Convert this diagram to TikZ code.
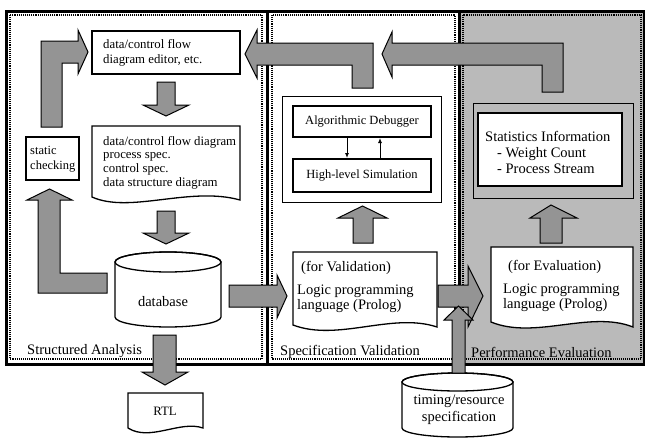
\documentclass[tikz,border=0pt]{standalone}
\usepackage{fontspec}
\setmainfont{Liberation Serif}
\usetikzlibrary{arrows.meta}
\newcommand\fsmall{\fontsize{12.8}{15}\selectfont}
\newcommand\fdoc{\fontsize{12.8}{13.7}\selectfont}
\newcommand\fmid{\fontsize{12.5}{15}\selectfont}
\newcommand\fbig{\fontsize{14.5}{15}\selectfont}
\newcommand\fstat{\fontsize{14.5}{16}\selectfont}
\newcommand\ftime{\fontsize{14.5}{17}\selectfont}
\begin{document}
\begin{tikzpicture}[x=1pt,y=-1pt,
  fat/.style={draw=black, line width=1pt, fill=black!42, line join=miter},
  box/.style={draw, line width=1.3pt, fill=white},
  thickbox/.style={draw, line width=2pt, fill=white},
  thinbox/.style={draw, line width=0.9pt},
  dotframe/.style={draw, densely dotted, line width=1.1pt},
  txt/.style={inner sep=0pt, align=left},
  small/.style={-{Latex[length=5pt,width=4pt]}, line width=0.9pt}]
\useasboundingbox (0,0) rectangle (645,439);
% panels
\fill[black!27] (459,11) rectangle (644.5,364);
\draw[dotframe] (10,15) rectangle (262,359);
\draw[dotframe] (272,15) rectangle (455,359);
\draw[dotframe] (463,15) rectangle (641,359);
\draw[line width=3pt] (6,11) rectangle (644.5,364);
\draw[line width=3pt] (267,11) -- (267,364);
\draw[line width=3pt] (459,11) -- (459,364);

% ---------- Structured Analysis ----------
\node[box, minimum width=148pt, minimum height=43pt] (editor) at (166,52.5) {};
\node[txt, anchor=west, font=\fsmall] (editortxt) at (103,52.5) {data/control flow\\diagram editor, etc.};

\draw[box] (92,126) -- (240,126) -- (240,200) .. controls (190,186) and (130,214) .. (92,197) -- cycle;
\node[txt, anchor=west, font=\fdoc] (doctxt) at (103,162.5) {data/control flow diagram\\process spec.\\control spec.\\data structure diagram};

\node[box, minimum width=53pt, minimum height=43pt] (static) at (52.5,158.5) {};
\node[txt, anchor=west, font=\fmid] (statictxt) at (30,159.5) {static\\checking};

% database cylinder
\draw[box] (115,262) -- (115,317) arc[start angle=180, end angle=0, x radius=53, y radius=10]
  -- (221,262) arc[start angle=0, end angle=-180, x radius=53, y radius=10] -- cycle;
\draw[line width=1.3pt] (168,262) ellipse [x radius=53, y radius=10];
\node[txt, font=\fbig] (database) at (163,302) {database};

% RTL document
\draw[box] (128,393) -- (203,393) -- (203,428) .. controls (180,420) and (150,442) .. (128,428) -- cycle;
\node[txt, font=\fsmall] (rtl) at (165,411) {RTL};

% fat arrows, panel 1
\draw[fat] (41,127) -- (41,41) -- (78,41) -- (78,30) -- (88,52) -- (78,74) -- (78,63) -- (62,63) -- (62,127) -- cycle;
\draw[fat] (157,82) -- (175,82) -- (175,105) -- (189,105) -- (166,116) -- (143,105) -- (157,105) -- cycle;
\draw[fat] (157,211) -- (175,211) -- (175,233) -- (189,233) -- (166,244) -- (143,233) -- (157,233) -- cycle;
\draw[fat] (38,293) -- (38,200) -- (27,200) -- (49.5,189) -- (72,200) -- (60,200) -- (60,273) -- (107,273) -- (107,293) -- cycle;
\draw[fat] (229,285) -- (277,285) -- (277,275) -- (287,296) -- (277,318) -- (277,307) -- (229,307) -- cycle;
\draw[fat] (153,335) -- (176,335) -- (176,372) -- (188,372) -- (165,385) -- (142,372) -- (153,372) -- cycle;

% ---------- Specification Validation ----------
\draw[thinbox] (282,96) rectangle (441,202);
\node[thickbox, minimum width=138pt, minimum height=31pt, font=\fmid] (dbg) at (362,121.5) {Algorithmic Debugger};
\node[thickbox, minimum width=138pt, minimum height=33pt, font=\fmid] (sim) at (362,175.5) {High-level Simulation};
\draw[small] ([xshift=-15pt]dbg.south) -- ([xshift=-15pt]sim.north);
\draw[small] ([xshift=18pt]sim.north) -- ([xshift=18pt]dbg.south);

\draw[box] (293,252) -- (437,252) -- (437,327) .. controls (392,312) and (338,342) .. (293,325) -- cycle;
\node[txt, anchor=west, font=\fbig] (valtxt1) at (301,268) {(for Validation)};
\node[txt, anchor=west, font=\fbig] (valtxt2) at (297,298.5) {Logic programming\\language (Prolog)};

\draw[fat] (353,243) -- (353,218) -- (338,218) -- (362.5,206) -- (387,218) -- (373,218) -- (373,243) -- cycle;

% L arrow to editor
\draw[fat] (245,54) -- (257,30) -- (257,43) -- (373,43) -- (373,88) -- (352,88) -- (352,65) -- (257,65) -- (257,78) -- cycle;

% ---------- Performance Evaluation ----------
\draw[thinbox] (473,103) rectangle (633,198);
\draw[thickbox] (478,113) rectangle (622,186);
\node[txt, anchor=west, font=\fstat] (stats) at (485,152) {Statistics Information\\\hspace{12pt}- Weight Count\\\hspace{12pt}- Process Stream};

\draw[box] (491,247) -- (633,247) -- (633,327) .. controls (590,310) and (535,340) .. (491,322) -- cycle;
\node[txt, anchor=west, font=\fbig] (evtxt1) at (508,267) {(for Evaluation)};
\node[txt, anchor=west, font=\fbig] (evtxt2) at (503,297.5) {Logic programming\\language (Prolog)};

\draw[fat] (540,243) -- (540,218) -- (530,218) -- (551,205) -- (577,218) -- (562,218) -- (562,243) -- cycle;

\draw[fat] (382,54) -- (392,32) -- (392,43) -- (563,43) -- (563,92) -- (542,92) -- (542,65) -- (392,65) -- (392,77) -- cycle;

% validation -> evaluation
\draw[fat] (438,285) -- (468,285) -- (468,266) -- (483,296) -- (468,327) -- (468,307) -- (438,307) -- cycle;

% timing cylinder
\draw[box] (402,382) -- (402,428) arc[start angle=180, end angle=0, x radius=55.5, y radius=9]
  -- (513,382) arc[start angle=0, end angle=-180, x radius=55.5, y radius=9] -- cycle;
\draw[line width=1.3pt] (457.5,382) ellipse [x radius=55.5, y radius=9];
\node[font=\ftime, align=center, inner sep=0pt] (timing) at (459,409.5) {timing/resource\\specification};

\draw[fat] (452,373) -- (452,320) -- (444,320) -- (458.5,306) -- (473,320) -- (465,320) -- (465,373) -- cycle;

% labels
\node[txt, anchor=west, font=\fbig] (lab1) at (27,351) {Structured Analysis};
\node[txt, anchor=west, font=\fbig] (lab2) at (280,352) {Specification Validation};
\node[txt, anchor=west, font=\fbig] (lab3) at (471,352) {Performance Evaluation};
\end{tikzpicture}
\end{document}
